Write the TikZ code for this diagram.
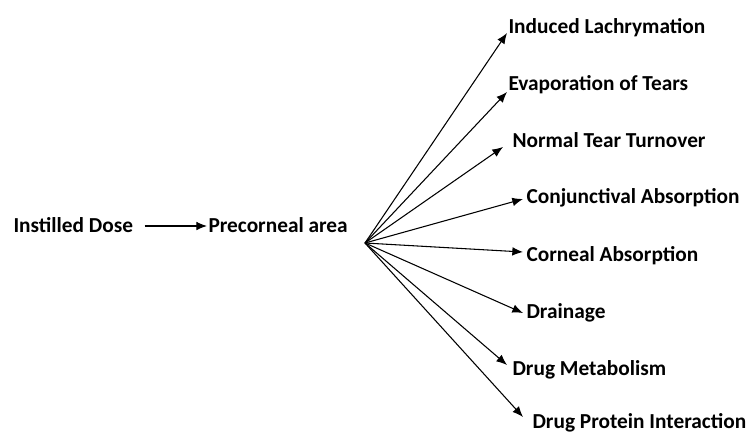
\documentclass[tikz,border=0pt]{standalone}
\usepackage{fontspec}
\setmainfont{Carlito}
\usetikzlibrary{arrows.meta,calc}
\tikzset{lbl/.style={anchor=base west,inner sep=0pt,font=\bfseries\fontsize{16}{19}\selectfont}}

\begin{document}
\begin{tikzpicture}[x=0.75pt,y=-0.75pt,>={Latex[length=8pt,width=6.5pt]},line width=0.8pt]
\useasboundingbox (0,0) rectangle (753,433);
\node[lbl] (dose) at (13,232) {Instilled Dose};
\node[lbl] (pre) at (208,232) {Precorneal area};
\coordinate (hub) at (365,243);
\node[lbl] (lac) at (508,33) {Induced Lachrymation};
\node[lbl] (eva) at (508,90) {Evaporation of Tears};
\node[lbl] (nor) at (512,147) {Normal Tear Turnover};
\node[lbl] (con) at (526,203) {Conjunctival Absorption};
\node[lbl] (cor) at (526,261) {Corneal Absorption};
\node[lbl] (dra) at (526,318) {Drainage};
\node[lbl] (met) at (512,375) {Drug Metabolism};
\node[lbl] (pro) at (532,428) {Drug Protein Interaction};
\draw[->] ($(dose.base east)+(11,-6)$) -- ($(pre.base west)+(-1,-6)$);
% fan out of the precorneal area
\draw[->] (hub) -- ($(lac.base west)+(-1,0)$);
\draw[->] (hub) -- ($(eva.base west)+(-1,2)$);
\draw[->] (hub) -- ($(nor.base west)+(-9,0)$);
\draw[->] (hub) -- ($(con.base west)+(-3,-4)$);
\draw[->] (hub) -- ($(cor.base west)+(-3,-9)$);
\draw[->] (hub) -- ($(dra.base west)+(-3,-5)$);
\draw[->] (hub) -- ($(met.base west)+(-5,-10)$);
\draw[->] (hub) -- ($(pro.base west)+(-9,-11)$);
\end{tikzpicture}
\end{document}
